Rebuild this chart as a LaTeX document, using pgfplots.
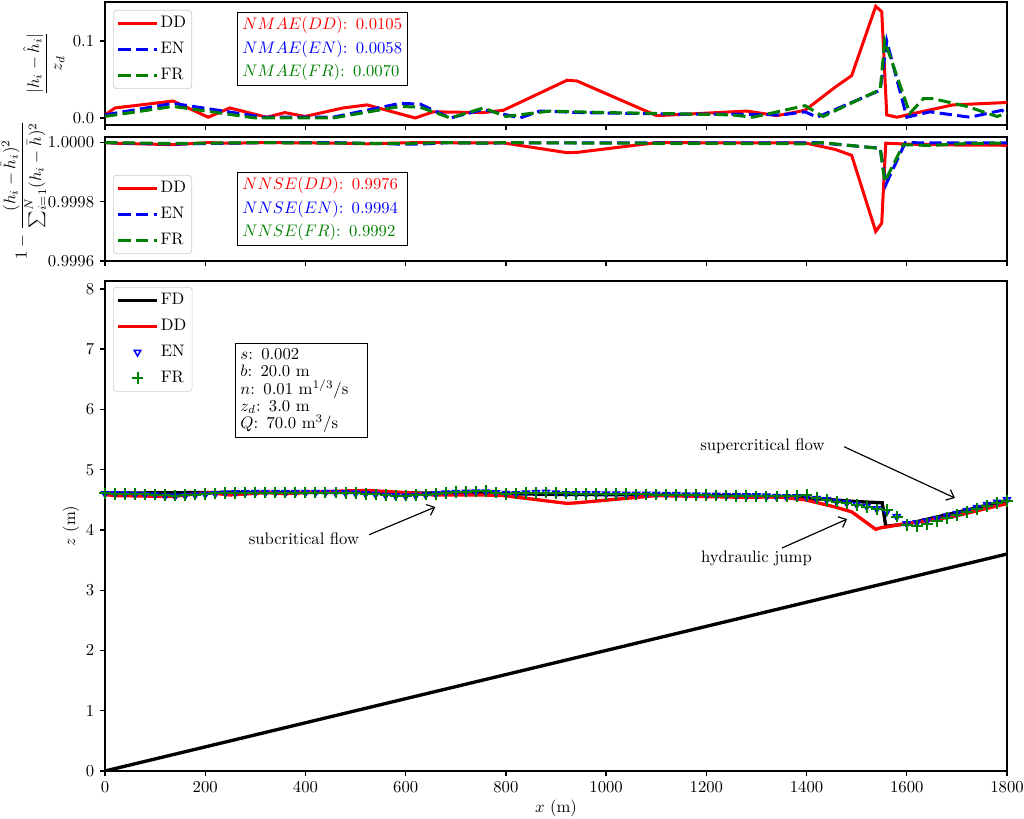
\documentclass[border=0pt]{standalone}
\usepackage{amsmath}
\usepackage{pgfplots}
\pgfplotsset{compat=1.18}
\usetikzlibrary{arrows.meta}
\definecolor{mgreen}{rgb}{0,0.5,0}
\tikzset{
  mydash/.style={dash pattern=on 7.4pt off 3.2pt},
  arr/.style={-{Straight Barb[length=4pt,width=7pt]}, line width=0.7pt},
  tbox/.style={draw=black, line width=0.6pt, fill=white, anchor=north west, align=left, inner sep=3pt, font=\fontsize{10}{12}\selectfont},
}
\pgfplotsset{
  myaxis/.style={
    scale only axis, width=541.2pt, xmin=0, xmax=1800,
    xtick={0,200,...,1800},
    /pgf/number format/1000 sep={},
    tick align=outside, xtick pos=left, ytick pos=left,
    major tick length=3pt,
    every tick/.style={black, line width=0.8pt},
    axis line style={line width=0.8pt},
    anchor=north west,
    legend cell align=left,
    legend style={draw=black!20, rounded corners=2pt, fill=white, row sep=3.5pt, inner sep=2pt,
      font=\fontsize{10}{12}\selectfont,
      nodes={inner sep=1.5pt, text height=7pt, text depth=2pt}},
    legend image code/.code={\draw[mark repeat=2,mark phase=2,##1] plot coordinates {(0pt,0pt) (11.5pt,0pt) (23pt,0pt)};},
  },
}
\begin{document}
\begin{tikzpicture}
\path[use as bounding box] (0,0) rectangle (614.4pt,-491.4pt);

% ---------------- top panel ----------------
\begin{axis}[myaxis, at={(63pt,-1.2pt)}, height=73.8pt,
  ymin=-0.0091, ymax=0.1506, ytick={0,0.1}, yticklabels={$0.0$,$0.1$}, xticklabels={},
  ylabel={$\dfrac{|h_i-\hat{h}_i|}{z_d}$},
  ylabel style={at={(axis description cs:-0.068,0.5)}, anchor=center, inner sep=0pt},
  legend style={at={(axis description cs:0.0089,0.935)}, anchor=north west}]
\addplot[red, line width=1.8pt, mark=none] coordinates {
(0,0.004)(20,0.013)(136,0.022)(206,0.001)(249,0.013)(323,0.001)(359,0.007)(399,0.002)(475,0.013)(523,0.017)(619,0.000)(655,0.008)(755,0.007)(795,0.010)(922,0.049)(942,0.048)(1101,0.003)(1281,0.009)(1341,0.003)(1397,0.010)(1457,0.040)(1490,0.055)(1538,0.145)(1550,0.138)(1560,0.004)(1580,0.001)(1692,0.017)(1796,0.020)(1800,0.020)};
\addlegendentry{DD}
\addplot[blue, line width=1.8pt, mydash, mark=none] coordinates {
(0,0.004)(136,0.019)(316,0.001)(455,0.001)(589,0.019)(629,0.018)(689,0.000)(755,0.011)(828,0.000)(868,0.009)(950,0.007)(1050,0.006)(1150,0.005)(1250,0.005)(1350,0.004)(1397,0.008)(1421,0.001)(1547,0.036)(1560,0.100)(1600,0.001)(1646,0.008)(1726,0.001)(1790,0.010)(1800,0.004)};
\addlegendentry{EN}
\addplot[mgreen, line width=1.8pt, mydash, mark=none] coordinates {
(0,0.002)(136,0.015)(300,0.000)(455,0.000)(589,0.015)(629,0.014)(689,0.000)(755,0.013)(800,0.002)(888,0.009)(1000,0.007)(1100,0.006)(1250,0.004)(1293,0.001)(1397,0.016)(1433,0.002)(1547,0.037)(1556,0.100)(1606,0.006)(1633,0.025)(1653,0.025)(1720,0.015)(1780,0.002)(1800,0.006)};
\addlegendentry{FR}
\node[tbox, text width=96pt] at (axis description cs:0.1463,0.919)
 {\textcolor{red}{$NMAE(DD)$: 0.0105}\\[2pt]\textcolor{blue}{$NMAE(EN)$: 0.0058}\\[2pt]\textcolor{mgreen}{$NMAE(FR)$: 0.0070}};
\end{axis}

% ---------------- middle panel (values as (NNSE-1)*1e4) ----------------
\begin{axis}[myaxis, at={(63pt,-82.2pt)}, height=74.4pt,
  ymin=-4, ymax=0.19, ytick={-4,-2,0}, yticklabels={$0.9996$,$0.9998$,$1.0000$}, xticklabels={},
  ylabel={$1-\dfrac{(h_i-\hat{h}_i)^2}{\sum_{i=1}^{N}(h_i-\bar{h})^2}$},
  ylabel style={at={(axis description cs:-0.0912,0.573)}, anchor=center, inner sep=0pt},
  legend style={at={(axis description cs:0.0089,0.694)}, anchor=north west}]
\addplot[red, line width=1.8pt, mark=none] coordinates {
(0,0)(20,-0.02)(136,-0.07)(206,0)(249,-0.02)(323,0)(475,-0.02)(523,-0.04)(619,0)(795,-0.01)(922,-0.34)(942,-0.33)(1101,0)(1281,-0.01)(1397,-0.01)(1457,-0.23)(1490,-0.43)(1538,-3.0)(1550,-2.72)(1558,-0.02)(1600,-0.05)(1692,-0.08)(1800,-0.09)};
\addlegendentry{DD}
\addplot[blue, line width=1.8pt, mydash, mark=none] coordinates {
(0,0)(136,-0.05)(316,0)(455,0)(589,-0.05)(629,-0.05)(689,0)(755,-0.02)(828,0)(868,-0.01)(1397,-0.01)(1421,0)(1547,-0.19)(1558,-1.43)(1575,-0.8)(1597,0)(1646,-0.01)(1800,-0.01)};
\addlegendentry{EN}
\addplot[mgreen, line width=1.8pt, mydash, mark=none] coordinates {
(0,0)(136,-0.03)(300,0)(589,-0.03)(689,0)(755,-0.02)(800,0)(888,-0.01)(1397,-0.04)(1433,0)(1547,-0.2)(1556,-1.32)(1593,-0.07)(1633,-0.09)(1653,-0.09)(1720,-0.03)(1800,-0.01)};
\addlegendentry{FR}
\node[tbox, text width=96pt] at (axis description cs:0.1463,0.718)
 {\textcolor{red}{$NNSE(DD)$: 0.9976}\\[2pt]\textcolor{blue}{$NNSE(EN)$: 0.9994}\\[2pt]\textcolor{mgreen}{$NNSE(FR)$: 0.9992}};
\end{axis}

% ---------------- bottom panel ----------------
\begin{axis}[myaxis, at={(63pt,-168.6pt)}, height=294pt,
  ymin=0, ymax=8.13, ytick={0,1,...,8},
  xlabel={$x$ (m)}, ylabel={$z$ (m)},
  xlabel style={at={(axis description cs:0.5,-0.0755)}, anchor=center},
  ylabel style={at={(axis description cs:-0.0377,0.5)}, anchor=center},
  legend style={at={(axis description cs:0.0089,0.988)}, anchor=north west}]
\addplot[black, line width=2pt, mark=none, forget plot] coordinates {(0,0)(1800,3.6)};
\addplot[black, line width=2pt, mark=none] coordinates {
(0,4.61)(100,4.615)(200,4.62)(500,4.62)(700,4.61)(900,4.59)(1100,4.58)(1300,4.56)(1400,4.53)(1450,4.50)(1500,4.47)(1551,4.45)(1558,4.06)(1600,4.10)(1700,4.29)(1800,4.49)};
\addlegendentry{FD}
\addplot[red, line width=2pt, mark=none] coordinates {
(0,4.585)(20,4.57)(136,4.555)(206,4.62)(249,4.58)(323,4.62)(359,4.60)(399,4.62)(475,4.645)(523,4.655)(619,4.61)(655,4.58)(755,4.58)(795,4.57)(922,4.44)(942,4.45)(1101,4.57)(1281,4.54)(1341,4.55)(1397,4.50)(1457,4.38)(1490,4.30)(1538,4.01)(1550,4.04)(1560,4.05)(1580,4.08)(1692,4.22)(1796,4.43)(1800,4.43)};
\addlegendentry{DD}
\addplot[only marks, mark=triangle, mark size=2.3pt, mark options={rotate=180, draw=blue, line width=0.9pt}] coordinates {
(0,4.600)(20,4.600)(40,4.595)(60,4.590)(80,4.585)(100,4.580)(120,4.565)(140,4.560)(160,4.570)(180,4.580)
(200,4.590)(220,4.600)(240,4.610)(260,4.615)(280,4.620)(300,4.620)(320,4.620)(340,4.620)(360,4.620)(380,4.620)
(400,4.620)(420,4.620)(440,4.620)(460,4.620)(480,4.615)(500,4.610)(520,4.600)(540,4.590)(560,4.575)(580,4.565)
(600,4.560)(620,4.570)(640,4.580)(660,4.595)(680,4.610)(700,4.620)(720,4.625)(740,4.630)(760,4.630)(780,4.615)
(800,4.605)(820,4.600)(840,4.610)(860,4.620)(880,4.625)(900,4.610)(920,4.600)(940,4.600)(960,4.600)(980,4.600)
(1000,4.595)(1020,4.595)(1040,4.590)(1060,4.590)(1080,4.590)(1100,4.590)(1120,4.585)(1140,4.585)(1160,4.580)(1180,4.580)
(1200,4.575)(1220,4.575)(1240,4.570)(1260,4.570)(1280,4.565)(1300,4.565)(1320,4.560)(1340,4.555)(1360,4.550)(1380,4.550)
(1400,4.550)(1420,4.520)(1440,4.500)(1460,4.470)(1480,4.450)(1500,4.420)(1520,4.390)(1540,4.350)(1560,4.300)(1580,4.220)
(1600,4.100)(1620,4.120)(1640,4.150)(1660,4.190)(1680,4.230)(1700,4.270)(1720,4.320)(1740,4.370)(1760,4.420)(1780,4.460)
(1800,4.500)};
\addlegendentry{EN}
\addplot[only marks, mark=+, mark size=3.5pt, mgreen, line width=1.2pt] coordinates {
(0,4.605)(20,4.600)(40,4.600)(60,4.595)(80,4.590)(100,4.585)(120,4.575)(140,4.570)(160,4.575)(180,4.585)
(200,4.595)(220,4.605)(240,4.610)(260,4.615)(280,4.620)(300,4.620)(320,4.620)(340,4.620)(360,4.620)(380,4.620)
(400,4.620)(420,4.620)(440,4.620)(460,4.620)(480,4.615)(500,4.610)(520,4.600)(540,4.590)(560,4.580)(580,4.570)
(600,4.570)(620,4.575)(640,4.585)(660,4.600)(680,4.610)(700,4.625)(720,4.635)(740,4.640)(760,4.645)(780,4.620)
(800,4.600)(820,4.605)(840,4.610)(860,4.615)(880,4.620)(900,4.610)(920,4.605)(940,4.600)(960,4.600)(980,4.600)
(1000,4.600)(1020,4.595)(1040,4.595)(1060,4.590)(1080,4.590)(1100,4.585)(1120,4.585)(1140,4.580)(1160,4.580)(1180,4.575)
(1200,4.575)(1220,4.570)(1240,4.570)(1260,4.565)(1280,4.560)(1300,4.555)(1320,4.555)(1340,4.555)(1360,4.560)(1380,4.565)
(1400,4.575)(1420,4.535)(1440,4.500)(1460,4.470)(1480,4.440)(1500,4.410)(1520,4.380)(1540,4.340)(1560,4.330)(1580,4.220)
(1600,4.080)(1620,4.060)(1640,4.100)(1660,4.150)(1680,4.200)(1700,4.250)(1720,4.300)(1740,4.350)(1760,4.400)(1780,4.450)
(1800,4.480)};
\addlegendentry{FR}
\node[tbox, text width=73pt, font=\fontsize{10}{10.3}\selectfont, execute at begin node={\lineskiplimit=-10pt}] at (axis description cs:0.1441,0.873)
 {$s$: 0.002\\$b$: 20.0 m\\$n$: 0.01 m$^{1/3}$/s\\$z_d$: 3.0 m\\$Q$: 70.0 m$^3$/s};
\node at (axis cs:397,3.85) {subcritical flow};
\draw[arr] (axis cs:527,3.92) -- (axis cs:659,4.38);
\node at (axis cs:1300,3.535) {hydraulic jump};
\draw[arr] (axis cs:1351,3.70) -- (axis cs:1481,4.18);
\node at (axis cs:1312,5.39) {supercritical flow};
\draw[arr] (axis cs:1475,5.38) -- (axis cs:1696,4.53);
\end{axis}
\end{tikzpicture}
\end{document}
